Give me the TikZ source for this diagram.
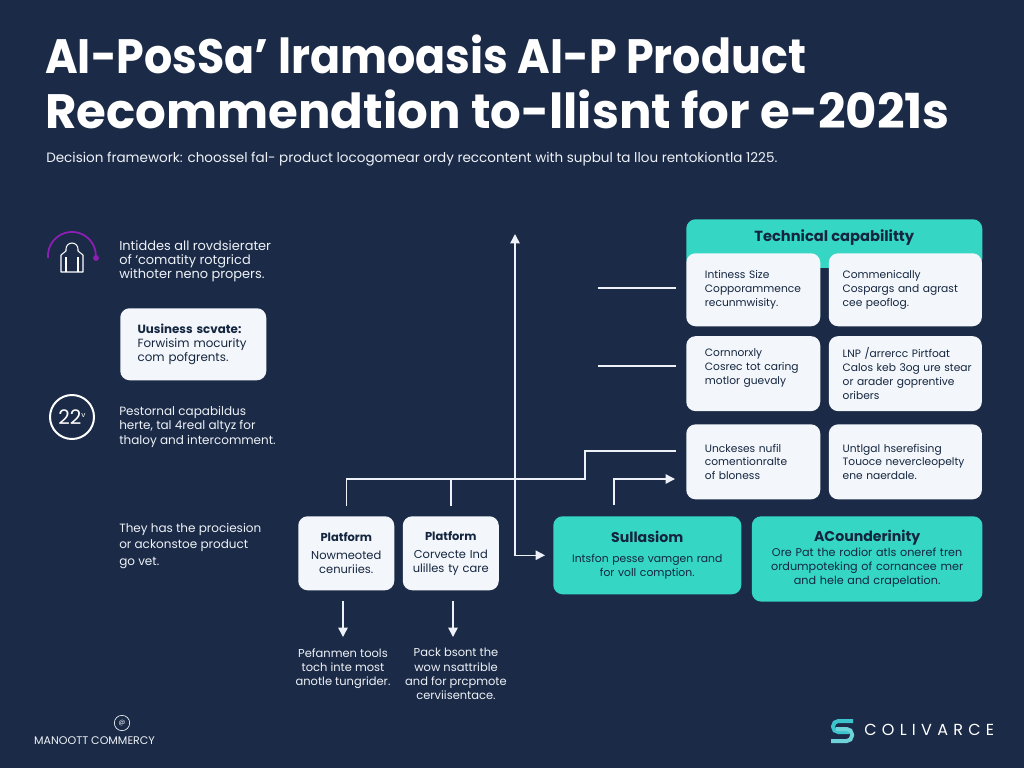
\documentclass[tikz,border=0pt]{standalone}
\usepackage{graphicx}
\usepackage{fontspec}
\setmainfont{Poppins}
\newfontfamily\logofont[LetterSpace=33]{Poppins}
\usetikzlibrary{positioning,arrows.meta}
\definecolor{pagebg}{HTML}{1B2A46}
\definecolor{tealcard}{HTML}{35D6C4}
\definecolor{whitecard}{HTML}{F3F6FB}
\definecolor{inkdark}{HTML}{14263F}
\definecolor{paletext}{HTML}{EEF2F8}
\definecolor{arcpurple}{HTML}{8E1FB5}
\definecolor{logoteal}{HTML}{3CC4CC}
\tikzset{
  card/.style={rectangle,rounded corners=7pt,fill=whitecard,text=inkdark,align=left,
    font=\fontsize{8.6}{10.6}\selectfont},
  leftcol/.style={card,text width=72.5pt,inner xsep=14pt,font=\fontsize{8}{10.4}\selectfont},
  rightcol/.style={card,text width=94pt,inner xsep=10.4pt,font=\fontsize{8}{10.4}\selectfont},
  platcard/.style={card,align=center,text width=66pt,inner xsep=3pt,minimum height=55.5pt},
  tealbox/.style={card,fill=tealcard,align=center},
  note/.style={text=paletext,align=left,anchor=north west,inner sep=0pt,
    font=\fontsize{9}{10.8}\selectfont},
  notemid/.style={note,align=center,anchor=north,font=\fontsize{8.6}{10.8}\selectfont},
  flow/.style={draw=paletext,line width=1.1pt},
  tip/.style={flow,>={Triangle[length=7pt,width=7pt]}}
}
\begin{document}
\begin{tikzpicture}[x=0.75pt,y=-0.75pt]
  % Page first, it fixes the proportions.
  \fill[pagebg] (0,0) rectangle (1024,768);
  \useasboundingbox (0,0) rectangle (1024,768);

  % Title and the line under it.
  \node[anchor=north west,inner sep=0pt,align=left,text=white,
    font=\fontsize{36.2}{41.5}\bfseries\selectfont] (title) at (45,34.5)
    {\scalebox{0.919}[1]{AI-PosSa’ lramoasis AI-P Product}\\Recommendtion to-llisnt for e-2021s};
  \node[anchor=north west,inner sep=0pt,text=paletext,
    font=\fontsize{10.15}{12}\selectfont] (subtitle) at (46,152)
    {Decision framework: choossel fal- product locogomear ordy reccontent with supbul ta llou rentokiontla 1225.};

  % Left column, top to bottom.
  \node[note,font=\fontsize{9.7}{10.8}\selectfont] (intro) at (119,240) {Intiddes all rovdsierater\\of {\textquoteleft}comatity rotgricd\\withoter neno propers.};
  \node[card,anchor=north west,minimum height=54pt,text width=83.5pt,inner xsep=13pt,
    font=\fontsize{8.9}{10.6}\selectfont] (usage) at (120,308)
    {\textbf{Uusiness scvate:}\\Forwisim mocurity\\com pofgrents.};
  \node[note] (personal) at (119,406) {Pestornal capabildus\\herte, tal 4real altyz for\\thaloy and intercomment.};
  \node[note,font=\fontsize{9}{12.4}\selectfont] (they) at (119,523) {They has the prociesion\\or ackonstoe product\\go vet.};

  % The two icons of the left column.
  \draw[arcpurple,line width=1.3pt] (48,258) arc[start angle=185,end angle=-5,radius=18pt];
  \fill[arcpurple] (96,258) circle (2.2pt);
  \draw[white,line width=0.8pt,line join=round] (61,272) -- (61,255) -- (66,251) -- (66,249)
    arc[start angle=180,end angle=0,radius=4.5pt] -- (78,251) -- (83,255) -- (83,272) -- cycle;
  \draw[white,line width=0.8pt] (66,257) -- (66,272) (78,257) -- (78,272);
  \node[circle,draw=white,line width=1.5pt,minimum size=33pt,inner sep=0pt,text=white,
    font=\fontsize{15}{16}\selectfont] (badge) at (72,417) {22\raisebox{5pt}{\fontsize{5.5}{5.5}\selectfont v}};

  % Capability block: header strip, then the six cards on it.
  \node[rectangle,rounded corners=7pt,fill=tealcard,text=inkdark,anchor=north west,minimum width=222pt,
    inner ysep=5pt,text height=11.5pt,text depth=15pt,
    font=\fontsize{11}{12}\bfseries\selectfont] (tech) at (686,219) {Technical capabilitty};
  \node[leftcol,anchor=north west,minimum height=54.75pt] (intiness) at (686,253)
    {Intiness Size\\Copporammence\\recunmwisity.};
  \node[rightcol,minimum height=54.75pt] (commercial) [right=6pt of intiness]
    {Commenically\\Cospargs and agrast\\cee peoflog.};
  \node[leftcol,minimum height=56.25pt] (currently) [below=7pt of intiness]
    {Cornnorxly\\Cosrec tot caring\\motlor guevaly\\\mbox{}};
  \node[rightcol,minimum height=56.25pt] (lnp) [below=7pt of commercial]
    {LNP /arrercc Pirtfoat\\\mbox{Calos keb 3og ure stear}\\or arader goprentive\\oribers};
  \node[leftcol,minimum height=56.25pt] (unckeses) [below=9.5pt of currently]
    {Unckeses nufil\\comentionralte\\of bloness};
  \node[rightcol,minimum height=56.25pt] (unticel) [below=9.5pt of lnp]
    {Untlgal hserefising\\Touoce nevercleopelty\\ene naerdale.};

  % Bottom row.
  \node[platcard,anchor=north west] (platA) at (298,516)
    {{\bfseries Platform}\\[3pt]Nowmeoted\\cenuriies.};
  \node[platcard] (platB) [right=6pt of platA]
    {{\bfseries Platform}\\[3pt]Corvecte Ind\\ulilles ty care};
  \node[tealbox,anchor=north west,minimum height=58.5pt,text width=135pt,inner xsep=3pt,
    font=\fontsize{8.1}{10.4}\selectfont] (sull) at (553,516)
    {{\bfseries\fontsize{10.6}{12}\selectfont Sullasiom}\\[4pt]Intsfon pesse vamgen rand\\for voll comption.};
  \node[tealbox,anchor=north west,minimum height=64pt,text width=167pt,inner xsep=3pt,xshift=7.5pt,
    font=\fontsize{8.4}{10.4}\selectfont] (acc) at (sull.north east)
    {{\bfseries\fontsize{10.6}{12}\selectfont ACounderinity}\\[1pt]Ore Pat the rodior atls oneref tren\\ordumpoteking of cornancee mer\\and hele and crapelation.};
  \node[notemid] (perf) at (343,648) {Pefanmen tools\\toch inte most\\anotle tungrider.};
  \node[notemid] (pack) at (456,648) {Pack bsont the\\wow nsattrible\\and for prcpmote\\cerviisentace.};

  % Free ends of the connectors.
  \coordinate (axistop) at (515,234);
  \coordinate (stubA) at (598,288);
  \coordinate (stubB) at (598,366);
  \coordinate (elbowA) at (585,479);
  \coordinate (elbowB) at (585,451);
  \coordinate (stepend) at (676,451);
  \coordinate (arrstart) at (614,505);
  \coordinate (arrend) at (675,479);
  \coordinate (dropA) at (343,601);
  \coordinate (dropB) at (453,601);

  % Connectors.
  \draw[tip,<->] (axistop) -- (axistop |- sull.west) -- ([xshift=-6pt]sull.west);
  \draw[flow] (stubA) -- (stubA -| stepend);
  \draw[flow] (stubB) -- (stubB -| stepend);
  \draw[flow,shorten <=7.5pt] (platA.north) -- (platA.north |- elbowA) -- (elbowA) -- (elbowB) -- (stepend);
  \draw[flow,shorten <=7.5pt] (platB.north) -- (platB.north |- elbowA);
  \draw[tip,->] (arrstart) -- (arrstart |- arrend) -- (arrend);
  \draw[tip,->,shorten >=8.25pt] (dropA) -- (dropA |- perf.north);
  \draw[tip,->,shorten >=8.25pt] (dropB) -- (dropB |- pack.north);

  % Marks at the foot of the page.
  \node[circle,draw=paletext,line width=0.5pt,minimum size=11.5pt,inner sep=0pt,text=paletext,
    font=\fontsize{5}{6}\selectfont] (markc) at (122,723) {@};
  \node[text=paletext,inner sep=0pt,font=\fontsize{8.3}{8.5}\selectfont] (markt) [below=4pt of markc,xshift=-20.6pt]
    {MANOOTT COMMERCY};
  \draw[logoteal,line width=3pt,rounded corners=4pt] (853,721) -- (833,721) -- (833,732) -- (849,732);
  \draw[logoteal!75!white,line width=3pt,rounded corners=4pt] (831,741) -- (852,741) -- (852,729) -- (836,729);
  \node[anchor=west,inner sep=0pt,text=white,font=\logofont\fontsize{12}{14}\selectfont] (brand) at (864,730) {COLIVARCE};
\end{tikzpicture}
\end{document}
